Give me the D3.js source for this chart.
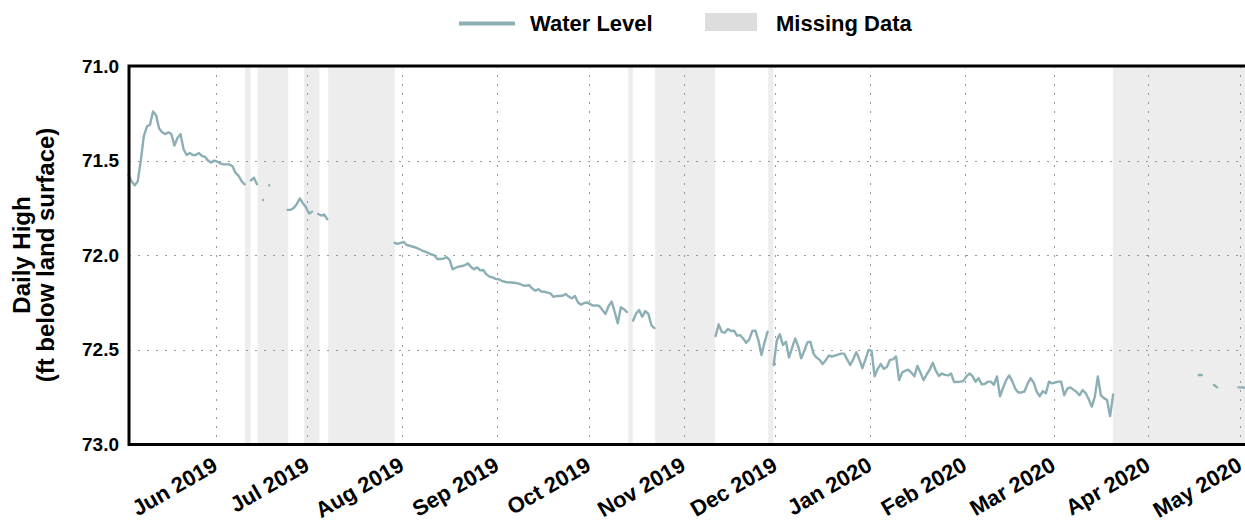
<!DOCTYPE html>
<html><head><meta charset="utf-8">
<script src="https://cdn.jsdelivr.net/npm/d3@7"></script>
<style>
body{margin:0;background:#fff}
svg{display:block}
text{font-family:"Liberation Sans",Arial,sans-serif;font-weight:bold;fill:#000}
</style>
</head><body>
<svg id="chart" width="1245" height="523"></svg>
<script>
// ---------- data ----------
const firstDay = "2019-05-03";           // first daily reading (one value per day, null = missing)
const mayLevels2019 = [71.575,71.61,71.63,71.61,71.50,71.37,71.32,71.31,71.24,71.26,71.33,71.35,71.36,71.35,71.36,71.42,71.38,71.36,71.44,71.47,71.46,71.47,71.47,71.46,71.475,71.48,71.50,71.51,71.50];
const junLevels2019 = [71.505,71.515,71.52,71.52,71.52,71.53,71.565,71.58,71.61,71.625,null,71.605,71.59,71.625,null,71.708,null,71.63,null,null,null,null,null,71.76,71.76,71.75,71.73,71.70,71.725,71.745];
const julLevels2019 = [71.78,71.77,null,71.782,71.79,71.785,71.81,null,null,null,null,null,null,null,null,null,null,null,null,null,null,null,null,null,null,null,null,null,71.934,71.94,71.935];
const augLevels2019 = [71.93,71.946,71.95,71.955,71.96,71.967,71.975,71.981,71.988,71.995,72.00,72.02,72.02,72.018,72.01,72.025,72.074,72.066,72.06,72.057,72.052,72.043,72.062,72.074,72.064,72.08,72.078,72.10,72.113,72.116,72.125];
const sepLevels2019 = [72.127,72.135,72.14,72.143,72.144,72.145,72.147,72.152,72.16,72.161,72.158,72.176,72.187,72.18,72.192,72.193,72.197,72.202,72.22,72.215,72.215,72.213,72.205,72.219,72.228,72.215,72.25,72.262,72.252,72.25];
const octLevels2019 = [72.258,72.266,72.265,72.268,72.29,72.31,72.268,72.245,72.30,72.36,72.275,72.285,72.30,null,72.346,72.307,72.29,72.325,72.295,72.31,72.37,72.385,null,null,null,null,null,null,null,null,null];
const novLevels2019 = [null,null,null,null,null,null,null,null,null,null,72.427,72.365,72.405,72.41,72.39,72.40,72.398,72.425,72.422,72.44,72.462,72.445,72.40,72.398,72.45,72.527,72.46,72.404,null,72.58];
const decLevels2019 = [72.45,72.418,72.474,72.457,72.54,72.49,72.44,72.48,72.545,72.505,72.46,72.457,72.52,72.54,72.553,72.575,72.555,72.53,72.535,72.53,72.525,72.52,72.52,72.55,72.58,72.55,72.512,72.55,72.597,72.55,72.50];
const janLevels2020 = [72.505,72.64,72.60,72.575,72.60,72.59,72.553,72.55,72.535,72.66,72.62,72.61,72.605,72.62,72.64,72.585,72.62,72.66,72.63,72.605,72.568,72.61,72.638,72.625,72.632,72.635,72.625,72.67,72.67,72.668,72.665];
const febLevels2020 = [72.64,72.625,72.638,72.668,72.65,72.682,72.68,72.668,72.668,72.685,72.64,72.745,72.70,72.66,72.635,72.665,72.705,72.725,72.725,72.72,72.68,72.65,72.672,72.72,72.745,72.718,72.73,72.668,72.677];
const marLevels2020 = [72.673,72.668,72.668,72.74,72.705,72.698,72.71,72.722,72.74,72.712,72.728,72.76,72.80,72.748,72.64,72.74,72.755,72.765,72.85,72.735,null,null,null,null,null,null,null,null,null,null,null];
const aprLevels2020 = [null,null,null,null,null,null,null,null,null,null,null,null,null,null,null,null,72.633,72.633,null,null,null,72.686,72.698,null,null,null,null,null,null,72.698];
const mayLevels2020 = [72.698,72.70];

const missingRanges = [
  ["2019-06-10T14:00","2019-06-12T10:00"],
  ["2019-06-14T17:00","2019-06-24T17:00"],
  ["2019-06-29T22:00","2019-07-04T22:00"],
  ["2019-07-07T19:00","2019-07-29T14:00"],
  ["2019-10-13T22:00","2019-10-15T10:00"],
  ["2019-10-22T17:00","2019-11-11T07:00"],
  ["2019-11-28T17:00","2019-11-30T10:00"],
  ["2020-03-20T10:00","2020-05-05T00:00"]
];
const monthTicks = ["2019-06-01","2019-07-01","2019-08-01","2019-09-01","2019-10-01","2019-11-01","2019-12-01","2020-01-01","2020-02-01","2020-03-01","2020-04-01","2020-05-01"];
const yTicks = [71.0,71.5,72.0,72.5,73.0];
const yGrid = [71.5,72.0,72.5];
const legendLabels = ["Water Level","Missing Data"];
const yTitle = ["Daily High","(ft below land surface)"];

// ---------- setup ----------
const lineColor = "#8bafb4";
const bandColor = "#ededed";
const W = 1245, H = 523;
const L = 129, R = 1245, T = 66, B = 444.5;

const parseDay = d3.timeParse("%Y-%m-%d");
const parseDT = d3.timeParse("%Y-%m-%dT%H:%M");
const allLevels = [].concat(mayLevels2019,junLevels2019,julLevels2019,augLevels2019,sepLevels2019,octLevels2019,novLevels2019,decLevels2019,janLevels2020,febLevels2020,marLevels2020,aprLevels2020,mayLevels2020);
const day0 = parseDay(firstDay);
const series = allLevels.map((v,i)=>{
  const d = d3.timeDay.offset(day0,i); d.setHours(12);
  return {date:d, value:v};
});

const x = d3.scaleTime()
  .domain([new Date(2019,4,3,15,30), new Date(2020,4,2,15,0)])
  .range([L,R]);
const y = d3.scaleLinear().domain([71,73]).range([T,B]);

const svg = d3.select("#chart");

// bands
svg.append("g").selectAll("rect").data(missingRanges).join("rect")
  .attr("x", d=>x(parseDT(d[0])))
  .attr("y", T)
  .attr("width", d=>Math.min(R, x(parseDT(d[1]))) - x(parseDT(d[0])))
  .attr("height", B-T)
  .attr("fill", bandColor);

// grid
const grid = svg.append("g").attr("stroke","#9a9a9a").attr("stroke-width",1).attr("stroke-dasharray","2,7");
grid.selectAll("line.v").data(monthTicks).join("line").attr("class","v")
  .attr("x1",d=>Math.round(x(parseDay(d)))+0.5).attr("x2",d=>Math.round(x(parseDay(d)))+0.5)
  .attr("y1",T).attr("y2",B);
grid.selectAll("line.h").data(yGrid).join("line").attr("class","h")
  .attr("x1",L).attr("x2",R)
  .attr("y1",d=>Math.round(y(d))+0.5).attr("y2",d=>Math.round(y(d))+0.5);

// line
const line = d3.line().defined(d=>d.value!=null).x(d=>x(d.date)).y(d=>y(d.value));
svg.append("path").datum(series)
  .attr("d", line)
  .attr("fill","none").attr("stroke",lineColor).attr("stroke-width",2.4)
  .attr("stroke-linejoin","round").attr("stroke-linecap","round");

// frame (left, top, bottom)
svg.append("path").attr("d",`M${R+2},${T} H${L} V${B} H${R+2}`)
  .attr("fill","none").attr("stroke","#000").attr("stroke-width",3);

// y axis
const yAxis = svg.append("g").attr("transform",`translate(${L},0)`)
  .call(d3.axisLeft(y).tickValues(yTicks).tickFormat(d3.format(".1f")).tickSize(0).tickPadding(10));
yAxis.select(".domain").remove();
yAxis.selectAll("text").style("font-size","19px").style("font-family",null);

// x axis
const xAxis = svg.append("g").attr("transform",`translate(0,${B})`)
  .call(d3.axisBottom(x).tickValues(monthTicks.map(parseDay)).tickFormat(d3.timeFormat("%b %Y")).tickSize(0));
xAxis.select(".domain").remove();
xAxis.selectAll("text")
  .attr("y",0).attr("dy",0).attr("x",0)
  .attr("text-anchor","end")
  .attr("transform","translate(3,25) rotate(-30)")
  .style("font-size","22px").style("font-family",null);

// y title
const yt = svg.append("text").attr("transform","translate(22,255) rotate(-90)")
  .attr("text-anchor","middle").style("font-size","24px");
yt.append("tspan").attr("x",0).attr("dy","0.35em").text(yTitle[0]);
yt.append("tspan").attr("x",0).attr("dy","1.0em").text(yTitle[1]);

// legend
const lg = svg.append("g");
lg.append("line").attr("x1",459).attr("x2",515).attr("y1",23.5).attr("y2",23.5)
  .attr("stroke",lineColor).attr("stroke-width",4);
lg.append("text").attr("x",530).attr("y",31).style("font-size","22px").text(legendLabels[0]);
lg.append("rect").attr("x",705).attr("y",13).attr("width",52).attr("height",18).attr("fill","#dddddd");
lg.append("text").attr("x",776).attr("y",31).style("font-size","22px").text(legendLabels[1]);
</script>
</body></html>
